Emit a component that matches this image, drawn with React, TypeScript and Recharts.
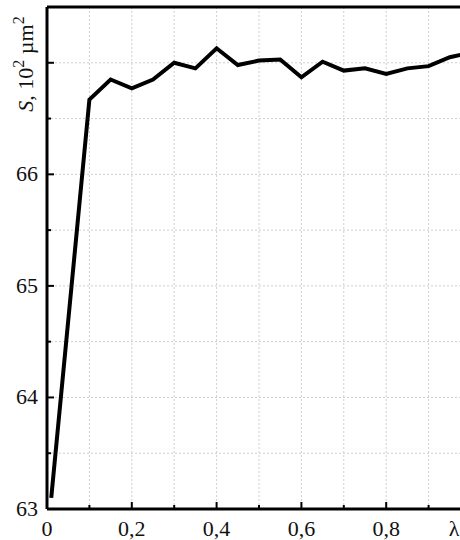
import React from 'react';
import {
  CartesianGrid,
  Label,
  Line,
  LineChart,
  ReferenceLine,
  XAxis,
  YAxis,
} from 'recharts';

const lambdaValues = [
  0.01, 0.1, 0.15, 0.2, 0.25, 0.3, 0.35, 0.4, 0.45, 0.5, 0.55, 0.6, 0.65, 0.7,
  0.75, 0.8, 0.85, 0.9, 0.95, 1.0,
];
const areaValues = [
  63.1, 66.67, 66.85, 66.77, 66.85, 67.0, 66.95, 67.13, 66.98, 67.02, 67.03,
  66.87, 67.01, 66.93, 66.95, 66.9, 66.95, 66.97, 67.05, 67.09,
];
const xTicks = [0, 0.1, 0.2, 0.3, 0.4, 0.5, 0.6, 0.7, 0.8, 0.9, 1.0];
const xTickLabels = ['0', '', '0,2', '', '0,4', '', '0,6', '', '0,8', '', 'λ'];
const yTicks = [63, 63.5, 64, 64.5, 65, 65.5, 66, 66.5, 67, 67.5];
const yTickLabels = ['63', '', '64', '', '65', '', '66', '', '', ''];

const data = lambdaValues.map((l, i) => ({ lambda: l, area: areaValues[i] }));

const FONT = '"Liberation Serif", "Times New Roman", serif';

const XTick = (props: any) => {
  const { x, y, index } = props;
  const label = xTickLabels[index] ?? '';
  const major = index % 2 === 0;
  const isLambda = label === 'λ';
  return (
    <g>
      {index > 0 && index < xTicks.length - 1 && (
        <line x1={x} x2={x} y1={y} y2={y - (major ? 7 : 4)} stroke="#000" strokeWidth={2} />
      )}
      {label && (
        <text
          x={isLambda ? x - 17 : x}
          y={y + 27}
          textAnchor="middle"
          fontSize={22}
          fontFamily={FONT}
          fill="#111"
        >
          {label}
        </text>
      )}
    </g>
  );
};

const YTick = (props: any) => {
  const { x, y, index } = props;
  const label = yTickLabels[index] ?? '';
  const major = index % 2 === 0;
  return (
    <g>
      {index > 0 && index < yTicks.length - 1 && (
        <line x1={x} x2={x + (major ? 7 : 4)} y1={y} y2={y} stroke="#000" strokeWidth={2} />
      )}
      {label && (
        <text
          x={x - 9}
          y={y + 7}
          textAnchor="end"
          fontSize={22}
          fontFamily={FONT}
          fill="#111"
        >
          {label}
        </text>
      )}
    </g>
  );
};

const YTitle = (props: any) => {
  const vb = props.viewBox || { x: 0, y: 0 };
  const cx = vb.x + 33;
  const cy = vb.y + 57;
  return (
    <text
      x={cx}
      y={cy}
      transform={`rotate(-90, ${cx}, ${cy})`}
      textAnchor="middle"
      fontSize={22}
      fontFamily={FONT}
      fill="#111"
    >
      <tspan fontStyle="italic">S</tspan>
      <tspan>, 10</tspan>
      <tspan dy={-9} fontSize={16}>2</tspan>
      <tspan dy={9}> µm</tspan>
      <tspan dy={-9} fontSize={16}>2</tspan>
    </text>
  );
};

export default function App() {
  return (
    <div
      style={{
        position: 'absolute',
        left: 0,
        top: 0,
        width: 460,
        height: 540,
        overflow: 'hidden',
        background: '#fff',
      }}
    >
      <LineChart
        width={480}
        height={540}
        data={data}
        margin={{ top: 7, right: 9, left: 0, bottom: 0 }}
      >
        <CartesianGrid stroke="#cfcfcf" strokeDasharray="2 2" />
        <XAxis
          dataKey="lambda"
          type="number"
          domain={[0, 1]}
          ticks={xTicks}
          interval={0}
          height={31}
          tickSize={0}
          tickMargin={0}
          tick={<XTick />}
          axisLine={{ stroke: '#000', strokeWidth: 3 }}
          tickLine={false}
        />
        <YAxis
          type="number"
          domain={[63, 67.5]}
          ticks={yTicks}
          interval={0}
          width={47}
          tickSize={0}
          tickMargin={0}
          tick={<YTick />}
          axisLine={{ stroke: '#000', strokeWidth: 3 }}
          tickLine={false}
        >
          <Label content={<YTitle />} />
        </YAxis>
        <ReferenceLine y={67.5} stroke="#000" strokeWidth={3} />
        <Line
          type="linear"
          dataKey="area"
          stroke="#000"
          strokeWidth={4}
          dot={false}
          isAnimationActive={false}
        />
      </LineChart>
    </div>
  );
}
